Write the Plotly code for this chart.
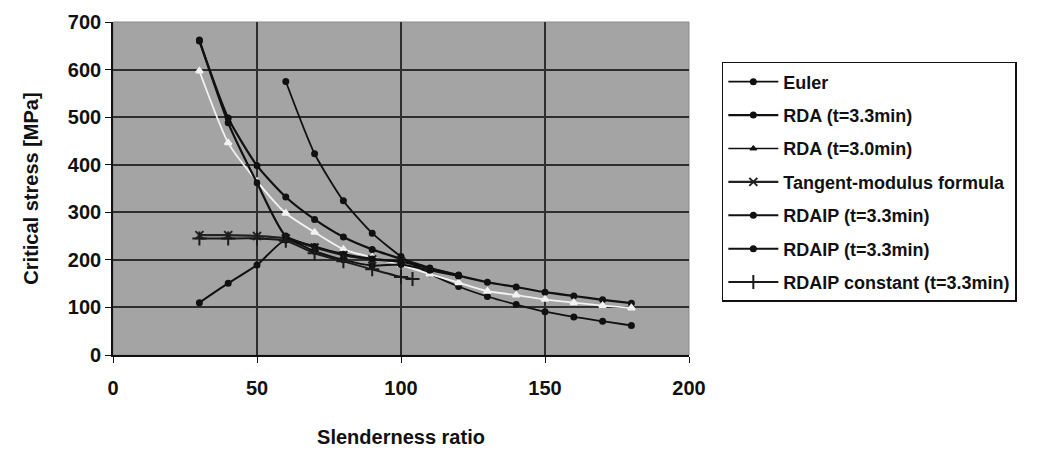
import plotly.graph_objects as go

# Slenderness ratios and critical stresses [MPa] for each method
lam_euler = [60, 70, 80, 90, 100, 110, 120, 130, 140, 150, 160, 170, 180]
sig_euler = [575, 423, 324, 256, 207, 171, 144, 123, 106, 91, 80, 71, 62]

lam_rda33 = [30, 40, 50, 60, 70, 80, 90, 100, 110, 120, 130, 140, 150, 160, 170, 180]
sig_rda33 = [660, 498, 398, 332, 285, 248, 222, 202, 183, 167, 153, 143, 132, 124, 116, 109]

lam_rda30 = [30, 40, 50, 60, 70, 80, 90, 100, 110, 120, 130, 140, 150, 160, 170, 180]
sig_rda30 = [597, 446, 365, 298, 258, 222, 205, 189, 170, 152, 134, 126, 117, 110, 104, 99]

lam_tangent = [30, 40, 50, 60, 70, 80, 90, 100]
sig_tangent = [252, 252, 250, 245, 226, 210, 201, 197]

lam_rdaip_a = [30, 40, 50, 60, 70, 80, 90, 100, 110, 120]
sig_rdaip_a = [662, 488, 362, 250, 228, 212, 202, 196, 182, 168]

lam_rdaip_b = [30, 40, 50, 60, 70, 80, 90, 100, 110, 120]
sig_rdaip_b = [110, 151, 189, 242, 218, 200, 188, 190, 178, 166]

lam_const = [30, 40, 50, 60, 70, 80, 90, 100, 104]
sig_const = [245, 245, 245, 240, 214, 197, 180, 164, 160]

# name, x, y, plot colour, legend colour, width, marker symbol, marker size
series = [
    ("Euler", lam_euler, sig_euler, "#111111", None, 1.8, "circle", 5),
    ("RDA (t=3.3min)", lam_rda33, sig_rda33, "#111111", None, 2.2, "circle", 5),
    ("RDA (t=3.0min)", lam_rda30, sig_rda30, "#f2f2f2", "#111111", 1.8, "triangle-up", 6),
    ("Tangent-modulus formula", lam_tangent, sig_tangent, "#222222", None, 2.2, "x-thin", 8),
    ("RDAIP (t=3.3min)", lam_rdaip_a, sig_rdaip_a, "#111111", None, 2.2, "circle", 5),
    ("RDAIP (t=3.3min)", lam_rdaip_b, sig_rdaip_b, "#111111", None, 2.0, "circle", 5),
    ("RDAIP constant (t=3.3min)", lam_const, sig_const, "#1a1a1a", None, 2.0, "cross-thin", 10),
]

fig = go.Figure()
for i, (name, xs, ys, color, lcolor, width, symbol, msize) in enumerate(series):
    fig.add_trace(go.Scatter(
        x=xs, y=ys, name=name, mode="lines+markers",
        legendgroup=f"g{i}", showlegend=lcolor is None,
        line=dict(color=color, width=width, shape="spline", smoothing=0.6),
        marker=dict(symbol=symbol, size=msize, color=color,
                    line=dict(color=color, width=2)),
    ))
    if lcolor is not None:
        # legend entry drawn in black for the light curve
        fig.add_trace(go.Scatter(
            x=[None], y=[None], name=name, mode="lines+markers",
            legendgroup=f"g{i}", showlegend=True,
            line=dict(color=lcolor, width=1.6),
            marker=dict(symbol=symbol, size=msize, color=lcolor,
                        line=dict(color=lcolor, width=1)),
        ))

font_main = "Liberation Sans, Arial, sans-serif"
bold = dict(family=font_main, color="#111111", weight="bold")

fig.update_layout(
    width=1058, height=451,
    margin=dict(l=113, r=369, t=22, b=96),
    paper_bgcolor="white",
    plot_bgcolor="#a4a4a4",
    font=dict(family=font_main, size=18, color="#111111"),
    showlegend=True,
    legend=dict(
        x=1.057, y=0.88, xanchor="left", yanchor="top",
        bgcolor="white", bordercolor="#111111", borderwidth=1.5,
        font=dict(family=font_main, size=18, color="#111111", weight="bold"),
        tracegroupgap=7,
        itemwidth=50,
    ),
    xaxis=dict(
        range=[0, 200], dtick=50, tick0=0, automargin=False,
        showgrid=True, gridcolor="#2e2e2e", gridwidth=1.6,
        showline=True, linecolor="#111111", linewidth=1.6,
        ticks="outside", ticklen=6, tickcolor="#111111", tickwidth=1.4,
        ticklabelstandoff=8,
        tickfont=dict(size=20, **bold),
        title=dict(text="Slenderness ratio", standoff=32, font=dict(size=20, **bold)),
        zeroline=False,
    ),
    yaxis=dict(
        range=[0, 700], dtick=100, tick0=0, automargin=False,
        showgrid=True, gridcolor="#2e2e2e", gridwidth=1.6,
        showline=True, linecolor="#111111", linewidth=1.6,
        ticks="outside", ticklen=6, tickcolor="#111111", tickwidth=1.4,
        ticklabelstandoff=0,
        tickfont=dict(size=20, **bold),
        title=dict(text="Critical stress [MPa]", standoff=24, font=dict(size=20, **bold)),
        zeroline=False,
    ),
)

# thin border around the plotting area
fig.add_shape(type="rect", xref="paper", yref="paper", x0=0, y0=0, x1=1, y1=1,
              line=dict(color="#8a8a8a", width=1), layer="below")

fig.write_html("out.html")
